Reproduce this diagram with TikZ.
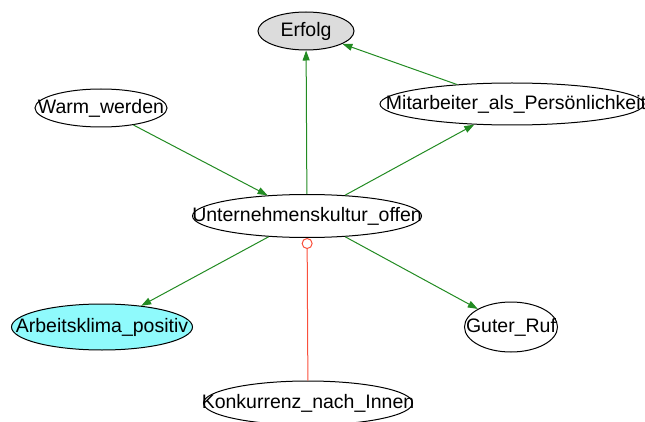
\documentclass[tikz,border=0pt]{standalone}
\usepackage{fontspec}
\setmainfont{Liberation Sans}
\usetikzlibrary{shapes.geometric,arrows.meta}

\definecolor{erfolggrau}{RGB}{220,220,220}
\definecolor{klimablau}{RGB}{143,250,252}
\definecolor{pfeilgruen}{RGB}{34,139,34}
\definecolor{hemmrot}{RGB}{250,80,60}

\begin{document}
\begin{tikzpicture}[x=1pt,y=1pt,
		font=\fontsize{19.5}{20}\selectfont,
		ent/.style={ellipse,draw,line width=1pt,inner sep=0pt},
		foerdert/.style={draw=pfeilgruen,line width=1pt,
			-{Triangle[length=10pt,width=7pt]},pfeilgruen},
		hemmt/.style={draw=hemmrot,line width=1pt,
			-{Circle[open,length=11pt,width=11pt]}}]
		\useasboundingbox (0,0) rectangle (645,421);

		% Knoten
		\node[ent,fill=erfolggrau,minimum width=96,minimum height=38,
			label=center:Erfolg] (erfolg) at (306,390) {};
		\node[ent,minimum width=264,minimum height=42,
			label={[xshift=4pt]center:Mitarbeiter\_als\_Persönlichkeit}] (mitarbeiter) at (512,317) {};
		\node[ent,minimum width=132,minimum height=38,
			label=center:Warm\_werden] (warm) at (101,313) {};
		\node[ent,minimum width=229,minimum height=43,
			label=center:Unternehmenskultur\_offen] (kultur) at (307,205) {};
		\node[ent,fill=klimablau,minimum width=181,minimum height=46,
			label=center:Arbeitsklima\_positiv] (klima) at (102,94) {};
		\node[ent,minimum width=93,minimum height=50,
			label=center:Guter\_Ruf] (ruf) at (511,94) {};
		\node[ent,minimum width=209,minimum height=44,
			label=center:Konkurrenz\_nach\_Innen] (konkurrenz) at (308,18) {};

		% Kanten
		\draw[foerdert] (kultur) -- (erfolg);
		\draw[foerdert] (mitarbeiter) -- (erfolg);
		\draw[foerdert] (warm) -- (kultur);
		\draw[foerdert] (kultur) -- (mitarbeiter);
		\draw[foerdert] (kultur) -- (klima);
		\draw[foerdert] (kultur) -- (ruf);
		\draw[hemmt] (konkurrenz) -- (kultur);
	\end{tikzpicture}
\end{document}
